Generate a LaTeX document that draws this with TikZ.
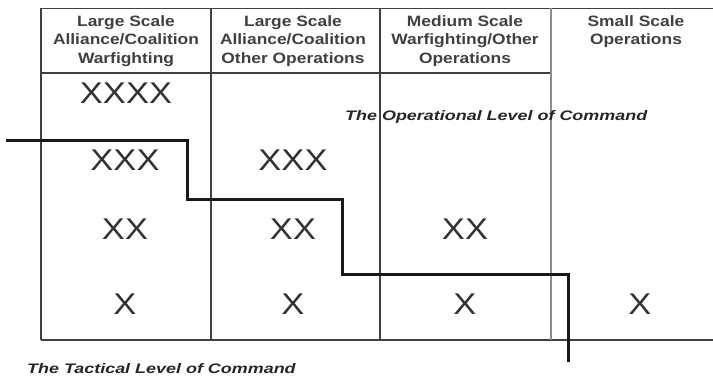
\documentclass[tikz,border=0pt]{standalone}
\usepackage{fontspec}
\setmainfont{Liberation Sans}
\newfontfamily\hdrfont[FakeStretch=1.16]{Liberation Sans}
\newfontfamily\echfont[FakeStretch=1.15]{Liberation Sans}
\newfontfamily\lvlfont[FakeStretch=1.3]{Liberation Sans}

\tikzset{
	hdr/.style={anchor=north, inner sep=0pt, align=center, text=black!75,
		font=\hdrfont\bfseries\fontsize{15}{18.5}\selectfont},
	ech/.style={inner sep=0pt, text=black!80, font=\echfont\fontsize{30}{30}\selectfont},
	lvl/.style={anchor=base west, inner sep=0pt, text=black!85,
		font=\lvlfont\bfseries\itshape\fontsize{13.8}{14}\selectfont},
	gridline/.style={line width=1.2pt, draw=black!75},
	divider/.style={line width=2pt, draw=black!45},
	cutline/.style={line width=3pt, draw=black!90}
}

\begin{document}
\begin{tikzpicture}[x=1pt,y=-1pt]
	\useasboundingbox (0,0) rectangle (713,377);
	\draw[gridline] (41,8.5) -- (713,8.5);
	\draw[gridline] (41,73) -- (551,73);
	\draw[gridline] (41,340) -- (713,340);
	\foreach \x in {41,211,380} \draw[gridline] (\x,8.5) -- (\x,340);
	\draw[divider] (551,8.5) -- (551,340);
	\node[hdr] (h1) at (126,15) {Large Scale\\Alliance/Coalition\\Warfighting};
	\node[hdr] (h2) at (293,15) {Large Scale\\Alliance/Coalition\\Other Operations};
	\node[hdr] (h3) at (465,15) {Medium Scale\\Warfighting/Other\\Operations};
	\node[hdr] (h4) at (636,15) {Small Scale\\Operations};
	\node[ech] (a4) at (126,93) {XXXX};
	\node[ech] (a3) at (125,160.5) {XXX};
	\node[ech] (a2) at (125,229.5) {XX};
	\node[ech] (a1) at (125,304.5) {X};
	\node[ech] (b3) at (293,160.5) {XXX};
	\node[ech] (b2) at (293,229.5) {XX};
	\node[ech] (b1) at (293,304.5) {X};
	\node[ech] (c2) at (465,229.5) {XX};
	\node[ech] (c1) at (465,304.5) {X};
	\node[ech] (d1) at (640,304.5) {X};
	\draw[cutline] (6,141) -- (187,141) -- (187,200) -- (342,200) -- (342,274) -- (568,274) -- (568,362);
	\node[lvl] (oplvl) at (345,121) {The Operational Level of Command};
	\node[lvl] (taclvl) at (27,373) {The Tactical Level of Command};
\end{tikzpicture}
\end{document}
